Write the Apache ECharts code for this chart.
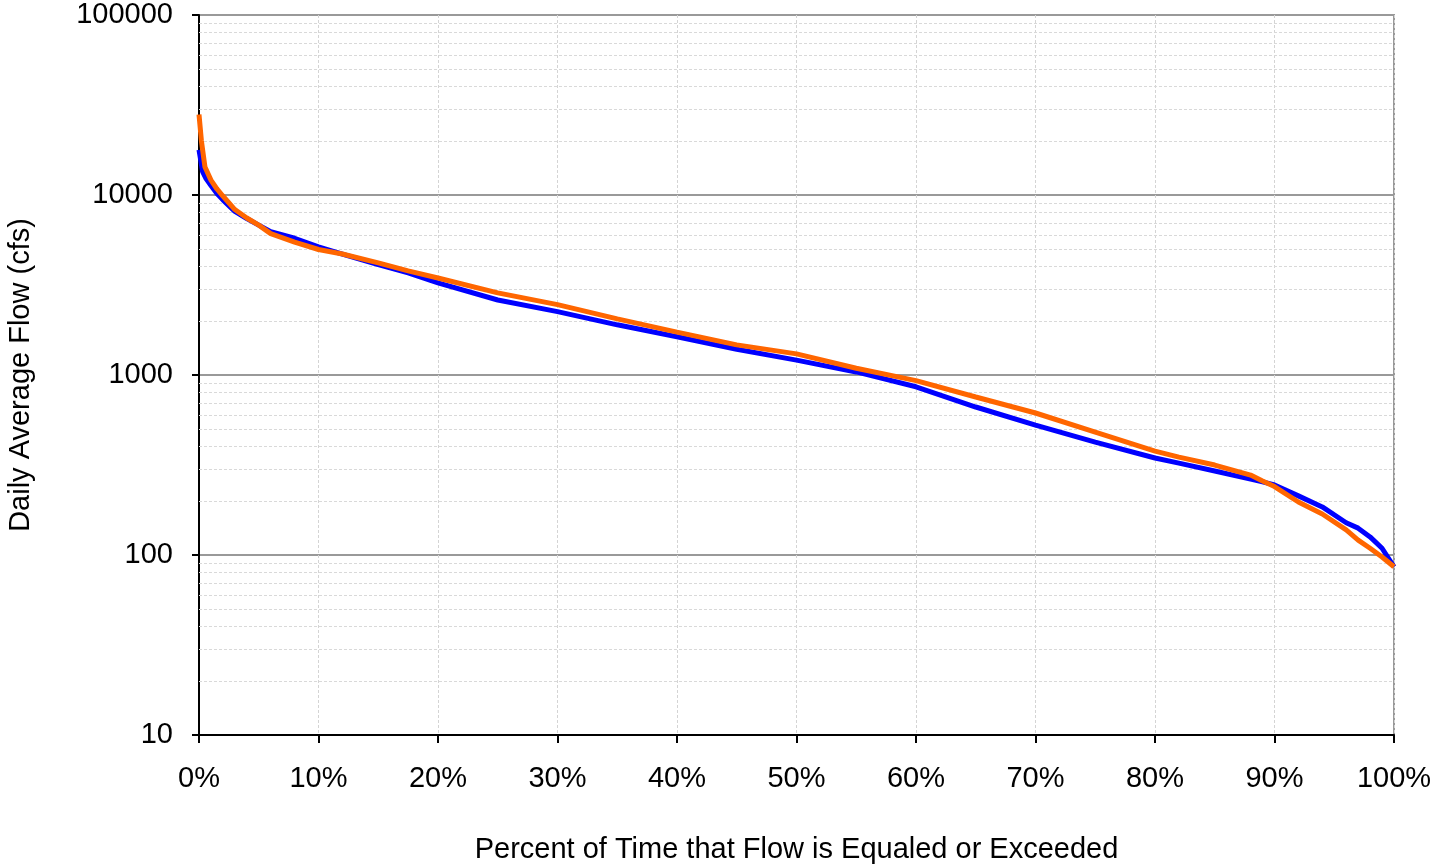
<!DOCTYPE html>
<html>
<head>
<meta charset="utf-8">
<script src="https://cdn.jsdelivr.net/npm/echarts@6/dist/echarts.min.js"></script>
<style>html,body{margin:0;padding:0;background:#fff}#c{width:1434px;height:866px}</style>
</head>
<body>
<div id="c"></div>
<script>
// Percent of time (x) for each series
const bluePct   = [0, 0.3, 0.6, 1, 1.5, 2, 3, 4, 5, 6, 8, 10, 12, 15, 17.5, 20, 25, 30, 35, 40, 45, 50, 55, 60, 65, 70, 75, 80, 82, 85, 88, 89, 90, 92, 94, 96, 97, 98, 99, 100];
const blueFlow  = [17800, 13500, 12300, 11300, 10200, 9400, 8100, 7400, 6800, 6250, 5750, 5150, 4700, 4100, 3690, 3250, 2610, 2250, 1900, 1630, 1390, 1210, 1040, 860, 664, 527, 424, 346, 324, 293, 264, 255, 245, 213, 185, 151, 141, 126, 109, 86];
const orangePct  = [0, 0.2, 0.5, 1, 1.5, 2, 3, 4, 5, 6, 8, 10, 12, 15, 17.5, 20, 25, 30, 35, 40, 45, 50, 55, 60, 65, 70, 75, 80, 82, 85, 88, 89, 90, 92, 94, 96, 97, 98, 99, 100];
const orangeFlow = [28000, 20000, 14300, 12100, 10800, 9870, 8300, 7450, 6800, 6100, 5480, 4980, 4700, 4200, 3790, 3460, 2860, 2460, 2050, 1730, 1470, 1310, 1090, 930, 755, 615, 482, 378, 350, 316, 278, 258, 240, 197, 169, 138, 121, 109, 97.5, 86];
// Minor gridline values on the log axis
const minorGrid = [20,30,40,50,60,70,80,90,200,300,400,500,600,700,800,900,2000,3000,4000,5000,6000,7000,8000,9000,20000,30000,40000,50000,60000,70000,80000,90000];

const chart = echarts.init(document.getElementById('c'));
const font = 'Liberation Sans, Arial, sans-serif';
const fs = 29;
chart.setOption({
  animation: false,
  grid: { left: 199, right: 40, top: 15, bottom: 131, containLabel: false, outerBoundsMode: 'none', show: true, borderColor: '#999', borderWidth: 2, backgroundColor: 'transparent' },
  xAxis: {
    type: 'value', min: 0, max: 100, interval: 10,
    name: 'Percent of Time that Flow is Equaled or Exceeded',
    nameLocation: 'middle', nameGap: 100,
    nameTextStyle: { fontFamily: font, fontSize: fs, color: '#000' },
    axisLine: { lineStyle: { color: '#000', width: 2 } },
    axisTick: { show: true, length: 8, lineStyle: { color: '#000', width: 2 } },
    axisLabel: { formatter: '{value}%', fontFamily: font, fontSize: fs, color: '#000', margin: 29 },
    splitLine: { show: true, lineStyle: { color: '#d4d4d4', width: 1, type: [3, 2] } }
  },
  yAxis: {
    type: 'log', logBase: 10, min: 10, max: 100000,
    name: 'Daily Average Flow (cfs)',
    nameLocation: 'middle', nameGap: 164,
    nameTextStyle: { fontFamily: font, fontSize: fs, color: '#000' },
    axisLine: { show: true, lineStyle: { color: '#000', width: 2 } },
    axisTick: { show: true, length: 7, lineStyle: { color: '#000', width: 2 } },
    axisLabel: { formatter: v => String(Math.round(v)), fontFamily: font, fontSize: fs, color: '#000', margin: 26 },
    splitLine: { show: true, lineStyle: { color: '#999', width: 2 } }
  },
  series: [
    {
      type: 'line', name: 'minor', data: [], silent: true, z: 1,
      markLine: {
        silent: true, symbol: 'none', label: { show: false }, z: 1,
        lineStyle: { color: '#d9d9d9', width: 1, type: [3, 2] },
        data: minorGrid.map(v => ({ yAxis: v }))
      }
    },
    {
      type: 'line', name: 'Blue', showSymbol: false,
      data: bluePct.map((p, i) => [p, blueFlow[i]]),
      lineStyle: { color: '#0000ff', width: 5 }, itemStyle: { color: '#0000ff' }, z: 3
    },
    {
      type: 'line', name: 'Orange', showSymbol: false,
      data: orangePct.map((p, i) => [p, orangeFlow[i]]),
      lineStyle: { color: '#ff6600', width: 5 }, itemStyle: { color: '#ff6600' }, z: 4
    }
  ]
});
</script>
</body>
</html>
